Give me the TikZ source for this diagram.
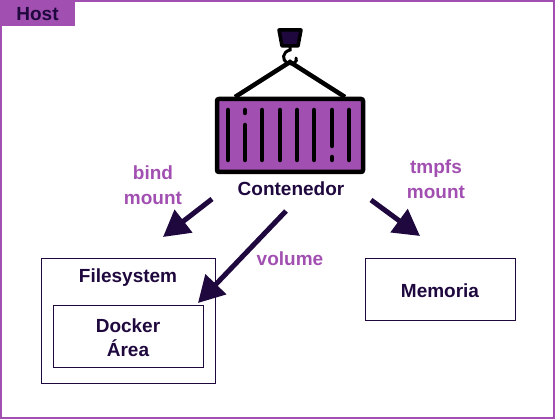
\documentclass[tikz,border=0pt]{standalone}
\usepackage{fontspec}
\setmainfont{Liberation Sans}
\usetikzlibrary{arrows.meta}
\definecolor{host}{RGB}{161, 79, 176}
\definecolor{ink}{RGB}{31, 8, 62}
\tikzset{
  box/.style={draw=ink, line width=1.3pt, anchor=north west, inner sep=0pt},
  lbl/.style={text=ink, font=\bfseries\fontsize{19}{24}\selectfont, align=center},
  mountlbl/.style={text=host, font=\bfseries\fontsize{19}{25}\selectfont, align=center},
  flecha/.style={draw=ink, line width=5pt, -{Triangle[length=26pt,width=28pt]}},
  barra/.style={line width=4.5pt, line cap=round, black},
}

\begin{document}
\begin{tikzpicture}[x=1pt, y=-1pt]
  \useasboundingbox (0,0) rectangle (555,419);
  % Host
  \draw[host, line width=4pt] (0,0) rectangle (555,419);
  \node[anchor=north west, fill=host, minimum width=75pt, minimum height=26pt, inner sep=0pt] (tab) at (0,0) {};
  \node[lbl] (host) at (37.5,14) {Host};

  % gancho
  \draw[black, line width=3.5pt, line join=round, fill=ink] (279,30) -- (301,30) -- (298,46) -- (282,46) -- cycle;
  \draw[black, line width=3pt, line cap=round] (290,47) -- (290,50) .. controls (282,52) and (282,60) .. (287,63)
    .. controls (293,66) and (298,61) .. (296,58);
  \draw[black, line width=4.5pt] (235,97) -- (290,62) -- (345,97);

  % contenedor
  \draw[black, line width=4.5pt, fill=host, rounded corners=2pt] (217,99) rectangle (363,172);
  \foreach \x in {228,262,280,297,314,349} {
    \draw[barra] (\x,110) -- (\x,160);
  }
  \draw[barra] (245,110) -- (245,113);
  \draw[barra] (245,125) -- (245,160);
  \draw[barra] (332,110) -- (332,146);
  \draw[barra] (332,157) -- (332,160);
  \node[lbl] (contenedor) at (291,189) {Contenedor};

  % cajas
  \node[box, minimum width=173.5pt, minimum height=125pt] (filesystem) at (41,258) {};
  \node[lbl] (fstxt) at (128,278) {Filesystem};
  \node[box, minimum width=149.5pt, minimum height=62pt] (docker) at (53,305) {};
  \node[lbl] (dockertxt) at (128,337.5) {Docker\\Área};
  \node[box, minimum width=149.5pt, minimum height=62pt] (memoria) at (365,258) {};
  \node[lbl] (memoriatxt) at (440,291) {Memoria};

  % flechas
  \coordinate (b0) at (212,199);
  \coordinate (b1) at (163,237);
  \coordinate (v0) at (286,211);
  \coordinate (v1) at (198,303);
  \coordinate (t0) at (371,200);
  \coordinate (t1) at (420,236);
  \draw[flecha] (b0) -- (b1);
  \draw[flecha] (v0) -- (v1);
  \draw[flecha] (t0) -- (t1);

  \node[mountlbl] (bind) at (153,185) {bind\\mount};
  \node[mountlbl] (volume) at (290,259) {volume};
  \node[mountlbl] (tmpfs) at (436,179) {tmpfs\\mount};
\end{tikzpicture}
\end{document}
